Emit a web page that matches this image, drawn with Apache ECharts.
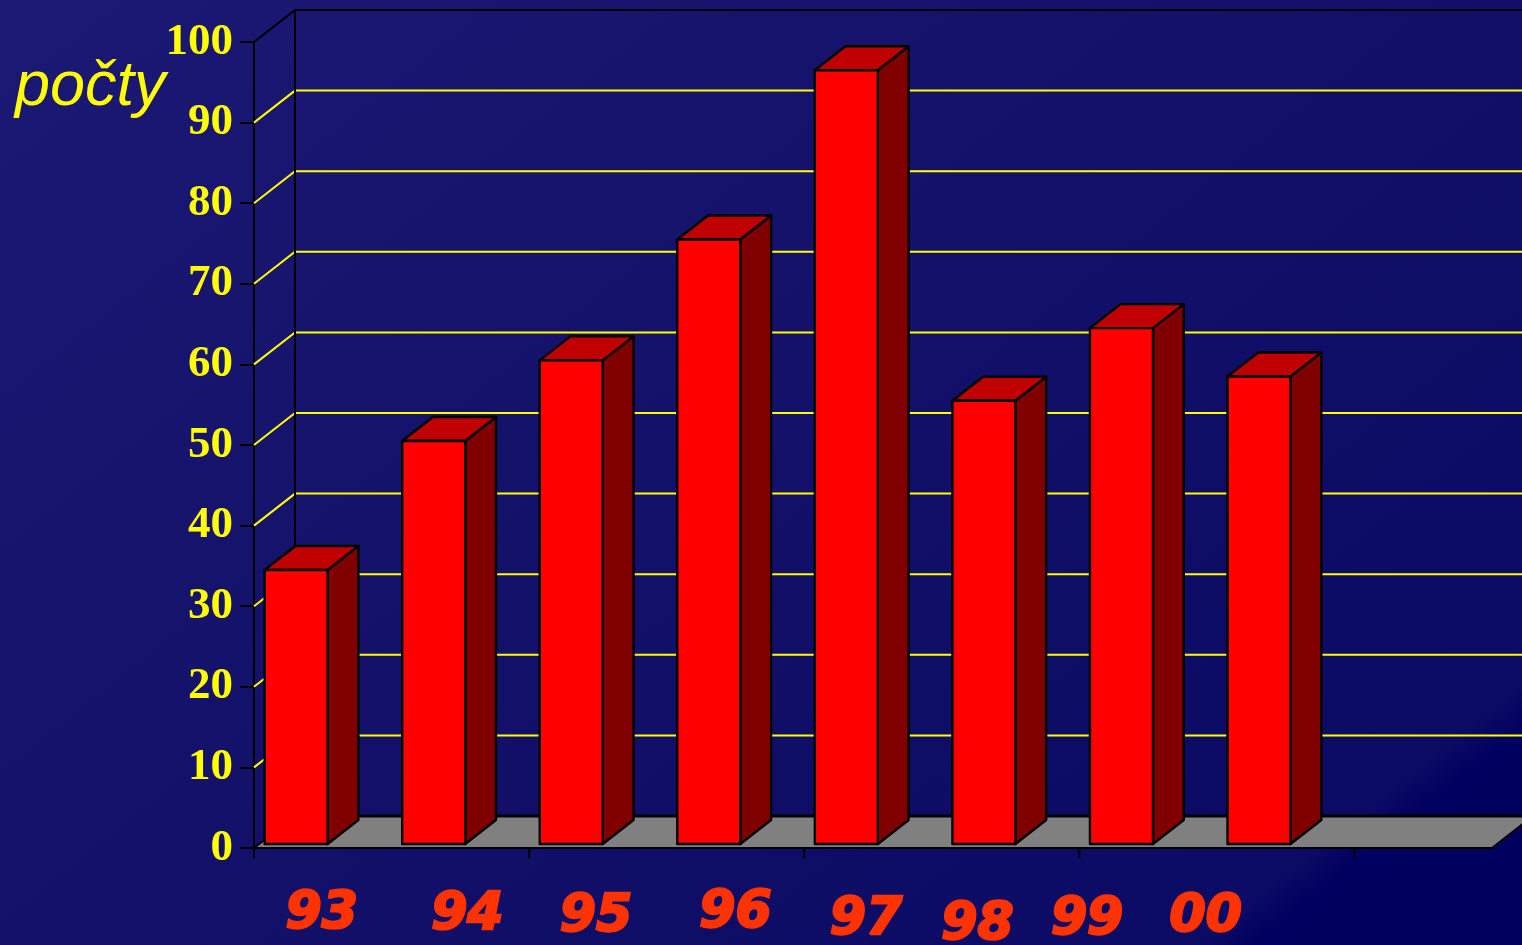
<!DOCTYPE html>
<html>
<head>
<meta charset="utf-8">
<title>počty</title>
<script src="https://cdn.jsdelivr.net/npm/echarts@6/dist/echarts.min.js"></script>
<style>
  html, body { margin: 0; padding: 0; background: #000066; }
  #chart { width: 1522px; height: 945px; }
</style>
</head>
<body>
<div id="chart"></div>
<script>
// ---- data ----
const years = ['93', '94', '95', '96', '97', '98', '99', '00'];
const counts = [34, 50, 60, 75, 96, 55, 64, 58];
const yTicks = [0, 10, 20, 30, 40, 50, 60, 70, 80, 90, 100];
const axisTitle = 'počty';

// one empty slot after the last year keeps the floor running on to the right
const xCats = years.concat(['']);

// ---- pseudo-3D look ----
const DX = 41, DY = -32;          // depth vector of the box (px)
const BAR_FRONT = 0.125, BAR_BACK = 0.875;   // bar depth slice
const BAR_INSET = 0.04, BAR_WIDTH = 0.458;   // fractions of a category band
const labelNudge = [[-1, 0], [7, 1], [-2, 3], [0, -1], [-7, 6], [-33, 11], [-61, 6], [-80, 3]];

const chart = echarts.init(document.getElementById('chart'));

function line(points, color, width) {
  return { type: 'polyline', shape: { points }, style: { stroke: color, lineWidth: width, fill: null } };
}

// walls, grid lines, floor and category ticks
function renderFrame(params, api) {
  const band = api.size([1, 0])[0];
  const left = api.coord([0, 0])[0] - band / 2;
  const right = api.coord([xCats.length - 1, 0])[0] + band / 2;
  const y0 = api.coord([0, yTicks[0]])[1];
  const yTop = api.coord([0, yTicks[yTicks.length - 1]])[1];
  const farRight = right + DX + 60;
  const children = [];
  yTicks.slice(1, -1).forEach(v => {
    const y = api.coord([0, v])[1];
    children.push(line([[left, y], [left + DX, y + DY], [farRight, y + DY]], '#ffff00', 2));
  });
  children.push(line([[left, yTop], [left + DX, yTop + DY], [farRight, yTop + DY]], '#000000', 2));
  children.push(line([[left + DX, yTop + DY], [left + DX, y0 + DY]], '#000000', 2));
  children.push({
    type: 'polygon',
    shape: { points: [[left, y0], [right, y0], [right + DX, y0 + DY], [left + DX, y0 + DY]] },
    style: { fill: '#808080', stroke: '#000000', lineWidth: 2 }
  });
  children.push(line([[left + DX, y0 + DY], [farRight, y0 + DY]], '#000000', 3));
  for (let i = 0; i < xCats.length; i += 2) {
    const x = left + i * band;
    children.push(line([[x, y0], [x, y0 + 10]], '#000000', 2));
  }
  return { type: 'group', children };
}

// a box bar: front face, top face, right side
function renderBar(params, api) {
  const i = api.value(0);
  const v = api.value(1);
  const band = api.size([1, 0])[0];
  const top = api.coord([i, v]);
  const base = api.coord([i, 0]);
  const x0 = top[0] - band / 2 + BAR_INSET * band;
  const w = BAR_WIDTH * band;
  const fx = BAR_FRONT * DX, fy = BAR_FRONT * DY;
  const bx = BAR_BACK * DX, by = BAR_BACK * DY;
  const edge = { stroke: '#000000', lineWidth: 2.4, lineJoin: 'round' };
  return {
    type: 'group',
    children: [
      {
        type: 'polygon',
        shape: { points: [[x0 + w + fx, top[1] + fy], [x0 + w + bx, top[1] + by], [x0 + w + bx, base[1] + by], [x0 + w + fx, base[1] + fy]] },
        style: Object.assign({ fill: '#800000' }, edge)
      },
      {
        type: 'polygon',
        shape: { points: [[x0 + fx, top[1] + fy], [x0 + w + fx, top[1] + fy], [x0 + w + bx, top[1] + by], [x0 + bx, top[1] + by]] },
        style: Object.assign({ fill: '#c00000' }, edge)
      },
      {
        type: 'rect',
        shape: { x: x0 + fx, y: top[1] + fy, width: w, height: base[1] - top[1] },
        style: Object.assign({ fill: '#ff0000' }, edge)
      }
    ]
  };
}

// year labels under the floor
function renderYear(params, api) {
  const i = api.value(0);
  const p = api.coord([i, 0]);
  const n = labelNudge[i];
  return {
    type: 'text',
    x: p[0] + n[0],
    y: p[1] + 66 + n[1],
    style: {
      text: years[i],
      fill: '#ff3300',
      stroke: '#ff3300',
      lineWidth: 2.5,
      font: 'italic bold 52px "DejaVu Sans"',
      align: 'center',
      verticalAlign: 'middle'
    }
  };
}

chart.setOption({
  animation: false,
  graphic: [
    {
      type: 'rect', z: -10, silent: true,
      shape: { x: 0, y: 0, width: 1522, height: 945 },
      style: {
        fill: {
          type: 'linear', x: 0, y: 0, x2: 1056, y2: 1319, global: true,
          colorStops: [
            { offset: 0, color: '#1b1973' },
            { offset: 0.5, color: '#121069' },
            { offset: 0.88, color: '#0b0a64' },
            { offset: 0.9, color: '#000060' },
            { offset: 1, color: '#00005c' }
          ]
        }
      }
    },
    {
      type: 'text', left: 15, top: 56,
      style: { text: axisTitle, fill: '#ffff00', font: 'italic 63px "Liberation Sans"' }
    }
  ],
  grid: { left: 254, right: 30, top: 42, bottom: 97, containLabel: false },
  xAxis: {
    type: 'category',
    data: xCats,
    boundaryGap: true,
    axisLine: { show: false },
    axisTick: { show: false },
    axisLabel: { show: false },
    splitLine: { show: false }
  },
  yAxis: {
    type: 'value',
    min: yTicks[0],
    max: yTicks[yTicks.length - 1],
    interval: yTicks[1] - yTicks[0],
    axisLine: { show: true, lineStyle: { color: '#000000', width: 2 } },
    axisTick: { show: true, length: 14, lineStyle: { color: '#000000', width: 2 } },
    axisLabel: {
      margin: 21,
      color: '#ffff00',
      fontFamily: '"Liberation Serif", "Times New Roman", serif',
      fontWeight: 'bold',
      fontSize: 45
    },
    splitLine: { show: false }
  },
  series: [
    { type: 'custom', name: 'frame', z: 1, silent: true, renderItem: renderFrame, data: [[0, 0]] },
    { type: 'custom', name: 'počty', z: 2, renderItem: renderBar, data: counts.map((c, i) => [i, c]) },
    { type: 'custom', name: 'years', z: 3, silent: true, renderItem: renderYear, data: years.map((y, i) => [i, 0]) }
  ]
});
</script>
</body>
</html>
